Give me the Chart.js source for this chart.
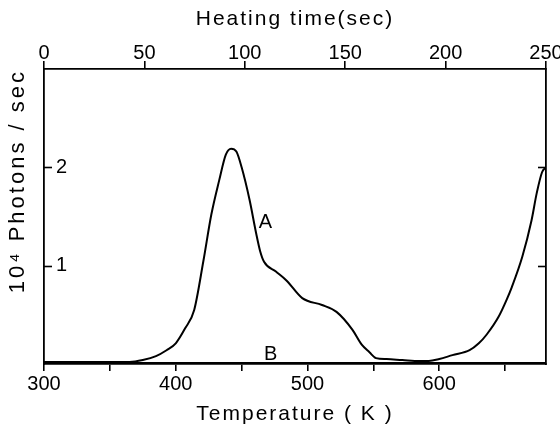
<!DOCTYPE html>
<html>
<head>
<meta charset="utf-8">
<script src="https://cdn.jsdelivr.net/npm/chart.js@4.4.1/dist/chart.umd.min.js"></script>
<style>
  body { margin: 0; background: #fff; }
  #wrap { width: 560px; height: 425px; }
</style>
</head>
<body>
<div id="wrap"><canvas id="grafico" width="560" height="425"></canvas></div>
<script>
// Curva A (muestra) - temperatura en K y 10^4 fotones/seg
const tempA = [300, 340, 365, 375, 385, 393, 400, 407, 414, 421, 427, 433, 438, 442, 446, 450, 456, 461, 464, 467,
  476, 484, 496, 511, 522, 534, 541, 547, 552, 560, 572, 585, 592, 600, 610, 623, 630, 636, 645, 651,
  655, 663, 670, 674, 678, 681];
const photonsA = [0.02, 0.02, 0.02, 0.04, 0.08, 0.14, 0.21, 0.36, 0.55, 1.05, 1.52, 1.87, 2.13, 2.19, 2.16, 2.00, 1.67, 1.33, 1.15, 1.04,
  0.94, 0.85, 0.67, 0.60, 0.53, 0.35, 0.20, 0.12, 0.06, 0.05, 0.04, 0.03, 0.03, 0.05, 0.09, 0.14, 0.21, 0.30, 0.48, 0.65,
  0.78, 1.09, 1.46, 1.74, 1.95, 2.00];

// Curva B (fondo)
const tempB = [300, 400, 500, 600, 681];
const photonsB = [0.01, 0.01, 0.01, 0.01, 0.01];

// Ejes
const tempTicks = [300, 350, 400, 450, 500, 550, 600, 650];
const tempLabels = [300, 400, 500, 600];
const timeTicks = [0, 50, 100, 150, 200, 250];
const photonTicks = [1, 2];

// Etiquetas de las curvas
const curveNames = ['A', 'B'];
const curveNameT = [468, 472];
const curveNameY = [1.44, 0.10];

const black = '#000';
const fontTicks = { family: 'Liberation Sans, Arial, sans-serif', size: 20 };
const fontTitle = { family: 'Liberation Sans, Arial, sans-serif', size: 21, lineHeight: 1 };

//Separar un poco las letras de los titulos
const titleSpacing = {
  id: 'titleSpacing',
  beforeDraw(chart) {
    Object.values(chart.scales).forEach(scale => {
      if (scale._spaced) return;
      const orig = scale.drawTitle;
      const gap = scale.isHorizontal() ? '2px' : '3px';
      scale.drawTitle = function () {
        this.ctx.save();
        this.ctx.letterSpacing = gap;
        orig.call(this);
        this.ctx.restore();
      };
      scale._spaced = true;
    });
  }
};

//Marcas hacia adentro en los ejes verticales
const innerTicks = {
  id: 'innerTicks',
  afterDraw(chart) {
    const { ctx, chartArea: { left, right } } = chart;
    ctx.save();
    ctx.strokeStyle = black;
    ctx.lineWidth = 1.6;
    ['y', 'y2'].forEach(id => {
      const scale = chart.scales[id];
      const x0 = id === 'y' ? left : right;
      const dir = id === 'y' ? 1 : -1;
      scale.ticks.forEach(t => {
        const py = Math.round(scale.getPixelForValue(t.value)) + 0.5;
        ctx.beginPath();
        ctx.moveTo(x0, py);
        ctx.lineTo(x0 + dir * 8, py);
        ctx.stroke();
      });
    });
    ctx.restore();
  }
};

//Letras A y B junto a las curvas
const curveLabels = {
  id: 'curveLabels',
  afterDatasetsDraw(chart) {
    const { ctx, scales: { x, y } } = chart;
    ctx.save();
    ctx.fillStyle = black;
    ctx.font = '20px Liberation Sans, Arial, sans-serif';
    ctx.textAlign = 'center';
    ctx.textBaseline = 'middle';
    curveNames.forEach((name, i) => {
      ctx.fillText(name, x.getPixelForValue(curveNameT[i]), y.getPixelForValue(curveNameY[i]));
    });
    ctx.restore();
  }
};

function fixSize(prop, value) {
  return scale => { scale[prop] = value; };
}

const ctx = document.getElementById('grafico').getContext('2d');
new Chart(ctx, {
  type: 'line',
  data: {
    datasets: [
      {
        label: 'A',
        data: tempA.map((t, i) => ({ x: t, y: photonsA[i] })),
        borderColor: black,
        borderWidth: 2,
        pointRadius: 0,
        cubicInterpolationMode: 'monotone',
        xAxisID: 'x',
        yAxisID: 'y'
      },
      {
        label: 'B',
        data: tempB.map((t, i) => ({ x: t, y: photonsB[i] })),
        borderColor: black,
        borderWidth: 2,
        pointRadius: 0,
        xAxisID: 'x',
        yAxisID: 'y'
      }
    ]
  },
  options: {
    responsive: false,
    animation: false,
    layout: { padding: 0 },
    plugins: { legend: { display: false }, tooltip: { enabled: false } },
    scales: {
      x: {
        type: 'linear',
        position: 'bottom',
        min: 300,
        max: 681,
        afterBuildTicks: axis => { axis.ticks = tempTicks.map(v => ({ value: v })); },
        afterFit: fixSize('height', 61),
        ticks: {
          autoSkip: false,
          maxRotation: 0,
          padding: 1,
          color: black,
          font: fontTicks,
          callback: v => tempLabels.includes(v) ? String(v) : ''
        },
        grid: { drawOnChartArea: false, tickLength: 7, color: black, lineWidth: 1.6 },
        border: { display: true, color: black, width: 1.8 },
        title: { display: true, text: 'Temperature ( K )', color: black, font: fontTitle, padding: { bottom: 0 } }
      },
      x2: {
        type: 'linear',
        position: 'top',
        min: 0,
        max: 250,
        afterBuildTicks: axis => { axis.ticks = timeTicks.map(v => ({ value: v })); },
        afterFit: fixSize('height', 69),
        ticks: { autoSkip: false, maxRotation: 0, padding: -4, color: black, font: fontTicks },
        grid: { drawOnChartArea: false, tickLength: 8, color: black, lineWidth: 1.6 },
        border: { display: true, color: black, width: 1.8 },
        title: { display: true, text: 'Heating time(sec)', color: black, font: fontTitle, padding: { top: 9 } }
      },
      y: {
        type: 'linear',
        position: 'left',
        min: 0,
        max: 3,
        afterBuildTicks: axis => { axis.ticks = photonTicks.map(v => ({ value: v })); },
        afterFit: fixSize('width', 44),
        ticks: { mirror: true, padding: 12, color: black, font: fontTicks },
        grid: { drawOnChartArea: false, drawTicks: false },
        border: { display: true, color: black, width: 1.8 },
        title: { display: true, text: '10\u2074 Photons / sec', align: 'end', color: black, font: { family: fontTitle.family, size: 22, lineHeight: 1 }, padding: { top: 7 } }
      },
      y2: {
        type: 'linear',
        position: 'right',
        min: 0,
        max: 3,
        afterBuildTicks: axis => { axis.ticks = photonTicks.map(v => ({ value: v })); },
        afterFit: fixSize('width', 14),
        ticks: { display: false },
        grid: { drawOnChartArea: false, drawTicks: false },
        border: { display: true, color: black, width: 1.8 }
      }
    }
  },
  plugins: [titleSpacing, innerTicks, curveLabels]
});
</script>
</body>
</html>
